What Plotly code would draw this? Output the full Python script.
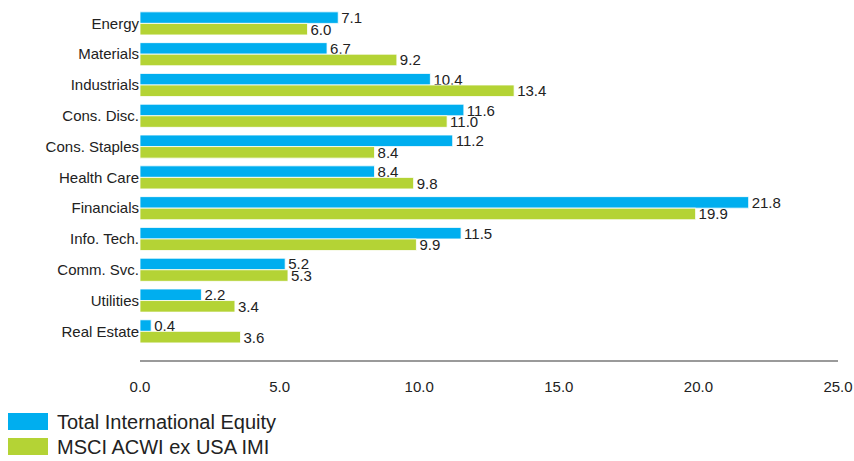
import plotly.graph_objects as go

# Sector weights (%)
sectors = ["Energy", "Materials", "Industrials", "Cons. Disc.", "Cons. Staples",
           "Health Care", "Financials", "Info. Tech.", "Comm. Svc.", "Utilities",
           "Real Estate"]
total_intl = [7.1, 6.7, 10.4, 11.6, 11.2, 8.4, 21.8, 11.5, 5.2, 2.2, 0.4]
msci_acwi = [6.0, 9.2, 13.4, 11.0, 8.4, 9.8, 19.9, 9.9, 5.3, 3.4, 3.6]
x_ticks = [0, 5, 10, 15, 20, 25]
x_tick_labels = ["0.0", "5.0", "10.0", "15.0", "20.0", "25.0"]

series_names = ["Total International Equity", "MSCI ACWI ex USA IMI"]
colors = ["#00AEEF", "#B4D335"]

PLOT_L, PLOT_R, PLOT_T, PLOT_B = 140, 838, 8, 360
pw, ph = PLOT_R - PLOT_L, PLOT_B - PLOT_T

fig = go.Figure()
for name, vals, col in zip(series_names, [total_intl, msci_acwi], colors):
    fig.add_trace(go.Bar(
        y=sectors, x=vals, orientation="h", name=name,
        marker=dict(color=col, line=dict(color="rgba(255,255,255,0.8)", width=1)),
        text=[f"{v:.1f}" for v in vals], textposition="outside",
        constraintext="none",
        textfont=dict(family="Liberation Sans, Arial", size=15, color="#222222"),
        cliponaxis=False, showlegend=False,
    ))

fig.update_layout(
    width=854, height=461,
    margin=dict(l=PLOT_L, r=854 - PLOT_R, t=PLOT_T, b=461 - PLOT_B, autoexpand=False),
    paper_bgcolor="white", plot_bgcolor="white",
    barmode="group", bargap=0.25, bargroupgap=0.0,
    font=dict(family="Liberation Sans, Arial", size=15, color="#222222"),
    xaxis=dict(range=[0, 25], tickvals=x_ticks, ticktext=x_tick_labels,
               showgrid=False, zeroline=False, showline=True,
               linecolor="#9a9a9a", linewidth=2, automargin=False,
               ticks="outside", ticklen=12, tickcolor="rgba(0,0,0,0)",
               tickfont=dict(size=15)),
    yaxis=dict(categoryorder="array", categoryarray=sectors,
               range=[10.93, -0.5], showgrid=False, zeroline=False,
               showline=False, ticks="", tickfont=dict(size=15), automargin=False),
)

# Legend drawn as swatches with labels below the plot
for i, (name, col) in enumerate(zip(series_names, colors)):
    y0 = 413 + i * 25
    fig.add_shape(type="rect", xref="paper", yref="paper",
                  x0=(8 - PLOT_L) / pw, x1=(48 - PLOT_L) / pw,
                  y0=(PLOT_B - y0) / ph, y1=(PLOT_B - (y0 + 17)) / ph,
                  fillcolor=col, line=dict(width=0))
    fig.add_annotation(xref="paper", yref="paper",
                       x=(55 - PLOT_L) / pw, y=(PLOT_B - (y0 + 9)) / ph,
                       text=name, showarrow=False, xanchor="left", yanchor="middle",
                       font=dict(size=20, color="#222222"))

fig.write_html("out.html")
